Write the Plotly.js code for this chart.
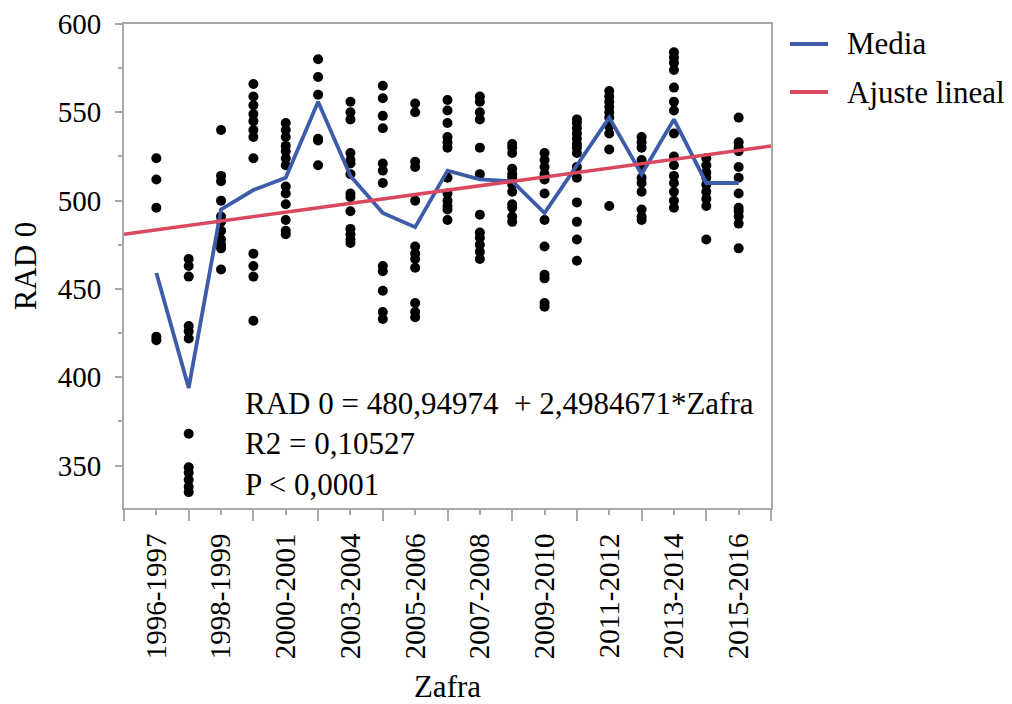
<!DOCTYPE html>
<html>
<head>
<meta charset="utf-8">
<script src="https://cdn.plot.ly/plotly-3.0.1.min.js"></script>
<style>
  html, body { margin: 0; padding: 0; background: #ffffff; }
  #chart { width: 1012px; height: 704px; }
</style>
</head>
<body>
<div id="chart"></div>
<script>
// Harvest seasons (2002-2003 is absent in the source)
const categories = ["1996-1997","1997-1998","1998-1999","1999-2000","2000-2001","2001-2002",
  "2003-2004","2004-2005","2005-2006","2006-2007","2007-2008","2008-2009","2009-2010",
  "2010-2011","2011-2012","2012-2013","2013-2014","2014-2015","2015-2016"];

const radValues = [
  [524, 512, 496, 423, 421],
  [467, 463, 457, 429, 426, 422, 368, 349, 346, 342, 338, 335],
  [540, 514, 511, 500, 491, 488, 483, 478, 475, 473, 461],
  [566, 559, 554, 549, 545, 540, 536, 524, 470, 463, 457, 432],
  [544, 540, 536, 531, 528, 524, 520, 508, 504, 498, 489, 483, 481],
  [580, 570, 560, 535, 534, 520],
  [556, 550, 546, 527, 523, 521, 515, 504, 502, 494, 484, 481, 478, 476],
  [565, 558, 548, 541, 521, 517, 510, 463, 460, 449, 437, 433],
  [555, 550, 522, 519, 500, 474, 470, 467, 462, 442, 437, 434],
  [557, 551, 544, 536, 533, 530, 513, 504, 500, 497, 495, 489],
  [559, 556, 550, 546, 530, 515, 492, 482, 479, 475, 471, 467],
  [532, 530, 527, 518, 515, 513, 509, 505, 498, 496, 491, 488],
  [527, 523, 519, 515, 512, 504, 489, 474, 458, 456, 442, 440],
  [546, 544, 541, 538, 535, 532, 530, 527, 519, 513, 499, 488, 478, 466],
  [562, 559, 556, 553, 550, 547, 542, 538, 529, 497],
  [536, 533, 530, 523, 519, 513, 510, 505, 495, 491, 489],
  [584, 581, 578, 574, 564, 556, 551, 538, 525, 520, 514, 510, 505, 500, 496],
  [524, 520, 516, 513, 509, 505, 501, 497, 478],
  [547, 533, 530, 528, 519, 513, 504, 496, 494, 491, 487, 473]
];

// Season means (Media line)
const meanValues = [459, 394, 495, 506, 513, 556, 514, 493, 485, 517, 512, 511, 493, 520, 547, 515, 546, 510, 510];

// Linear fit as printed on the chart
const fitIntercept = 480.94974;
const fitSlope = 2.4984671;
const fitX = [0, 20];

const fitText = ["RAD 0 = 480,94974  + 2,4984671*Zafra", "R2 = 0,10527", "P < 0,0001"];
const seriesNames = ["Media", "Ajuste lineal"];
const axisTitles = { x: "Zafra", y: "RAD 0" };

// ---- build traces ----
const xIdx = categories.map((c, i) => i + 1);
const ptsX = [], ptsY = [];
radValues.forEach((vals, i) => vals.forEach(v => { ptsX.push(xIdx[i]); ptsY.push(v); }));

const serif = "'Liberation Serif', 'Times New Roman', serif";
const blue = "#3d5ca8";
const red = "#d9485c";
const grey = "#a8a8a8";
const seriesColors = [blue, red];

const traces = [
  { type: "scatter", mode: "markers", x: ptsX, y: ptsY, showlegend: false,
    marker: { color: "#000000", size: 10 }, hoverinfo: "y" },
  { type: "scatter", mode: "lines", x: xIdx, y: meanValues, name: seriesNames[0],
    showlegend: false, line: { color: blue, width: 3.8 } },
  { type: "scatter", mode: "lines", x: fitX, y: fitX.map(v => fitIntercept + fitSlope * v),
    name: seriesNames[1], showlegend: false, line: { color: red, width: 3.5 } }
];

const labelIdx = xIdx.filter((v, i) => i % 2 === 0);
const labelTxt = categories.filter((c, i) => i % 2 === 0);

// Legend drawn with paper-anchored shapes + text
const legendY = [0.9587, 0.8595];
const legendShapes = seriesNames.map((n, i) => ({
  type: "line", xref: "paper", yref: "paper", x0: 1.0294, x1: 1.0881, y0: legendY[i], y1: legendY[i],
  line: { color: seriesColors[i], width: 3.8 }
}));
const legendAnn = seriesNames.map((n, i) => ({
  xref: "paper", yref: "paper", x: 1.114, y: legendY[i], xanchor: "left", yanchor: "middle",
  showarrow: false, text: n, font: { family: serif, size: 31, color: "#000000" }
}));

const layout = {
  width: 1012, height: 704,
  paper_bgcolor: "#ffffff", plot_bgcolor: "#ffffff",
  margin: { l: 124, r: 241, t: 24, b: 196 },
  font: { family: serif, size: 29, color: "#000000" },
  showlegend: false,
  xaxis: {
    range: [0, 20], showgrid: false, zeroline: false,
    showline: true, linecolor: grey, linewidth: 2, mirror: true,
    tickmode: "array", tickvals: labelIdx, ticktext: labelTxt,
    ticks: "outside", ticklen: 5, tickwidth: 2, tickcolor: grey,
    tickangle: -90, tickfont: { family: serif, size: 29, color: "#000000" },
    ticklabelstandoff: 7,
    minor: { tick0: 0, dtick: 2, ticks: "outside", ticklen: 11, tickwidth: 2, tickcolor: grey, showgrid: false },
    title: { text: axisTitles.x, font: { family: serif, size: 31, color: "#000000" }, standoff: 18 },
    automargin: false
  },
  yaxis: {
    range: [326, 600], showgrid: false, zeroline: false,
    showline: true, linecolor: grey, linewidth: 2, mirror: true,
    tick0: 0, dtick: 50,
    ticks: "outside", ticklen: 7, tickwidth: 2, tickcolor: grey,
    tickfont: { family: serif, size: 29, color: "#000000" },
    ticklabelstandoff: 8,
    minor: { tick0: 0, dtick: 25, ticks: "outside", ticklen: 4, tickwidth: 2, tickcolor: grey, showgrid: false },
    title: { text: axisTitles.y, font: { family: serif, size: 31, color: "#000000" }, standoff: 12 },
    automargin: false
  },
  shapes: legendShapes,
  annotations: [{
    xref: "paper", yref: "paper", x: 0.184, y: 0.132, xanchor: "left", yanchor: "middle",
    align: "left", showarrow: false, text: fitText.join("<br>"),
    font: { family: serif, size: 31, color: "#000000" }
  }].concat(legendAnn)
};

Plotly.newPlot("chart", traces, layout, { displayModeBar: false, staticPlot: true });
</script>
</body>
</html>
